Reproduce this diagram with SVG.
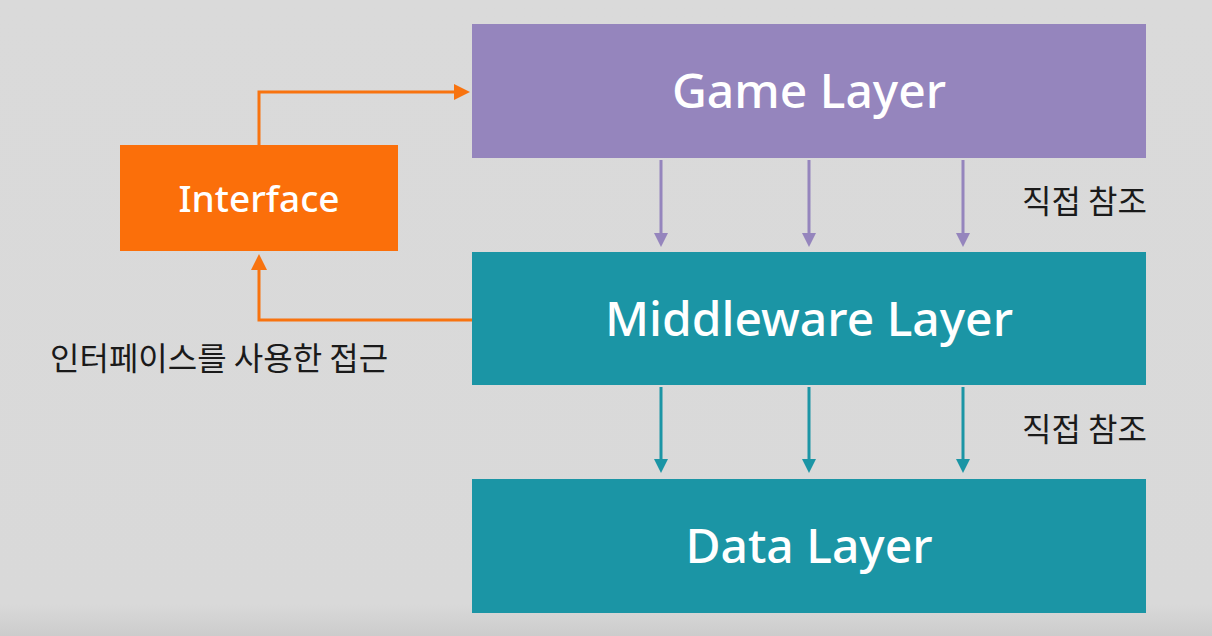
<svg xmlns="http://www.w3.org/2000/svg" width="1212" height="636" viewBox="0 0 1212 636">
<defs>
<linearGradient id="bg" x1="0" y1="0" x2="0" y2="1">
<stop offset="0" stop-color="#dadada"/>
<stop offset="0.95" stop-color="#d9d9d9"/>
<stop offset="1" stop-color="#cccccc"/>
</linearGradient>
<marker id="ap" markerWidth="14" markerHeight="14" refX="7" refY="7" orient="auto" markerUnits="userSpaceOnUse" viewBox="0 0 14 14"><path d="M0,0 L14,7 L0,14 z" fill="#9585bd"/></marker>
<marker id="at" markerWidth="14" markerHeight="14" refX="7" refY="7" orient="auto" markerUnits="userSpaceOnUse" viewBox="0 0 14 14"><path d="M0,0 L14,7 L0,14 z" fill="#1b95a5"/></marker>
<marker id="ao" markerWidth="16" markerHeight="16" refX="8" refY="8" orient="auto" markerUnits="userSpaceOnUse" viewBox="0 0 16 16"><path d="M0,0 L16,8 L0,16 z" fill="#f8730f"/></marker>
</defs>
<style>
.lbl{font-family:"Noto Sans","Open Sans","Noto Sans CJK KR",sans-serif;fill:#ffffff;font-weight:500;text-anchor:middle}
.kr{font-family:"Noto Sans CJK KR","Noto Sans",sans-serif;fill:#1a1a1a;font-size:32px}
.pl{stroke:#9585bd;stroke-width:3;fill:none}
.tl{stroke:#1b95a5;stroke-width:3;fill:none}
.ol{stroke:#f8730f;stroke-width:3;fill:none}
</style>
<rect width="1212" height="636" fill="url(#bg)"/>
<g id="game">
<rect x="472" y="24" width="674" height="134" fill="#9585bd"/>
<text class="lbl" x="809" y="108" font-size="48">Game Layer</text>
</g>
<g id="middleware">
<rect x="472" y="252" width="674" height="133" fill="#1b95a5"/>
<text class="lbl" x="809" y="336" font-size="48">Middleware Layer</text>
</g>
<g id="data">
<rect x="472" y="479" width="674" height="134" fill="#1b95a5"/>
<text class="lbl" x="809" y="563" font-size="48">Data Layer</text>
</g>
<g id="interface">
<rect x="120" y="145" width="278" height="106" fill="#fb6f0a"/>
<text class="lbl" x="259" y="212" font-size="37">Interface</text>
</g>
<g id="connectors">
<path class="pl" d="M661,160 V240" marker-end="url(#ap)"/>
<path class="pl" d="M809,160 V240" marker-end="url(#ap)"/>
<path class="pl" d="M963,160 V240" marker-end="url(#ap)"/>
<path class="tl" d="M661,387 V466" marker-end="url(#at)"/>
<path class="tl" d="M809,387 V466" marker-end="url(#at)"/>
<path class="tl" d="M963,387 V466" marker-end="url(#at)"/>
<path class="ol" d="M259,145 V92 H462" marker-end="url(#ao)"/>
<path class="ol" d="M472,320 H259 V262" marker-end="url(#ao)"/>
</g>
<text class="kr" x="1022" y="213">직접 참조</text>
<text class="kr" x="1022" y="441">직접 참조</text>
<text class="kr" x="50" y="370">인터페이스를 사용한 접근</text>
</svg>
